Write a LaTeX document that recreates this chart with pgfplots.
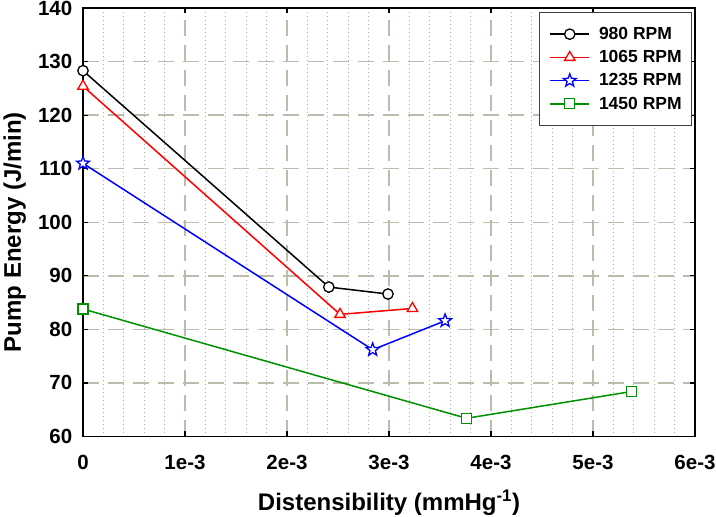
\documentclass[border=0pt]{standalone}
\usepackage{fontspec}
\setmainfont{Liberation Sans}
\usepackage{pgfplots}
\pgfplotsset{compat=1.18}
\definecolor{gridc}{RGB}{188,188,172}
\definecolor{mgreen}{RGB}{0,145,0}
\pgfdeclareplotmark{ostar}{%
  \pgfpathmoveto{\pgfpointpolar{90}{\pgfplotmarksize}}%
  \pgfpathlineto{\pgfpointpolar{126}{0.42\pgfplotmarksize}}%
  \pgfpathlineto{\pgfpointpolar{162}{\pgfplotmarksize}}%
  \pgfpathlineto{\pgfpointpolar{198}{0.42\pgfplotmarksize}}%
  \pgfpathlineto{\pgfpointpolar{234}{\pgfplotmarksize}}%
  \pgfpathlineto{\pgfpointpolar{270}{0.42\pgfplotmarksize}}%
  \pgfpathlineto{\pgfpointpolar{306}{\pgfplotmarksize}}%
  \pgfpathlineto{\pgfpointpolar{342}{0.42\pgfplotmarksize}}%
  \pgfpathlineto{\pgfpointpolar{18}{\pgfplotmarksize}}%
  \pgfpathlineto{\pgfpointpolar{54}{0.42\pgfplotmarksize}}%
  \pgfpathclose
  \pgfusepathqfillstroke
}
\pgfplotstableread{
x y
0 128.3
0.00241 87.9
0.00299 86.6
}\tA
\pgfplotstableread{
x y
0 125.4
0.00252 82.8
0.00323 83.9
}\tB
\pgfplotstableread{
x y
0 111.0
0.00284 76.2
0.00355 81.6
}\tC
\pgfplotstableread{
x y
0 83.8
0.00376 63.4
0.00538 68.4
}\tD
\begin{document}
\begin{tikzpicture}
\begin{axis}[
  scale only axis, width=612pt, height=428.5pt,
  xmin=0, xmax=0.006, ymin=60, ymax=140,
  xtick={0,0.001,0.002,0.003,0.004,0.005,0.006},
  xticklabels={0,1e-3,2e-3,3e-3,4e-3,5e-3,6e-3},
  ytick={60,70,80,90,100,110,120,130,140},
  minor x tick num=4,
  scaled x ticks=false,
  tick align=inside, major tick length=5pt, minor tick length=0pt,
  xmajorgrids, ymajorgrids, xminorgrids,
  major grid style={gridc, line width=1.5pt, dash pattern=on 16pt off 9pt},
  minor grid style={black!35, line width=0.8pt, dash pattern=on 0.8pt off 3.2pt},
  axis line style={black, line width=1.2pt},
  every tick/.style={black, line width=1.2pt},
  tick label style={font=\bfseries\fontsize{20.5}{20.5}\selectfont, inner sep=0pt},
  /pgf/number format/assume math mode=true,
  xticklabel style={yshift=-18pt, font=\bfseries\fontsize{20.5}{20.5}\selectfont},
  yticklabel style={xshift=-10.5pt, font=\bfseries\fontsize{20.5}{20.5}\selectfont},
  xlabel={Distensibility (mmHg\textsuperscript{-1})},
  ylabel={Pump Energy (J/min)},
  label style={font=\fontsize{24}{24}\selectfont\bfseries},
  xlabel style={at={(axis description cs:0.5,-0.1732)}, anchor=base, inner sep=0pt},
  ylabel style={at={(axis description cs:-0.1116,0.477)}, anchor=center, inner sep=0pt},
  clip=false,
  legend cell align=left,
  legend style={at={(1,1)}, xshift=-2.7pt, yshift=-3.7pt, anchor=north east,
    draw=black!75, line width=1.2pt, font=\fontsize{17.5}{17.5}\selectfont\bfseries,
    inner xsep=10pt, inner ysep=15pt, row sep=9.5pt, nodes={inner sep=0pt}},
  legend image code/.code={\draw[mark repeat=2,mark phase=2] plot coordinates {(0pt,0pt) (19.5pt,0pt) (39pt,0pt)}; \path (48pt,0pt);},
]
\addplot[black, line width=1.5pt, mark=*, mark size=5.2pt, mark options={solid, fill=white, line width=1.3pt}] table {\tA};
\addlegendentry{980 RPM}
\addplot[red, line width=1.5pt, mark=triangle*, mark size=6pt, mark options={solid, fill=white, line width=1.3pt}] table {\tB};
\addlegendentry{1065 RPM}
\addplot[blue, line width=1.5pt, mark=ostar, mark size=6.8pt, mark options={solid, fill=white, line width=1.3pt}] table {\tC};
\addlegendentry{1235 RPM}
\addplot[mgreen, line width=1.5pt, mark=square*, mark size=5pt, mark options={solid, fill=white, line width=1.3pt}] table {\tD};
\addlegendentry{1450 RPM}
\end{axis}
\pgfresetboundingbox
\path[use as bounding box] ([shift={(-83pt,-80.5pt)}]current axis.south west) rectangle ++(716pt,517pt);
\end{tikzpicture}
\end{document}
